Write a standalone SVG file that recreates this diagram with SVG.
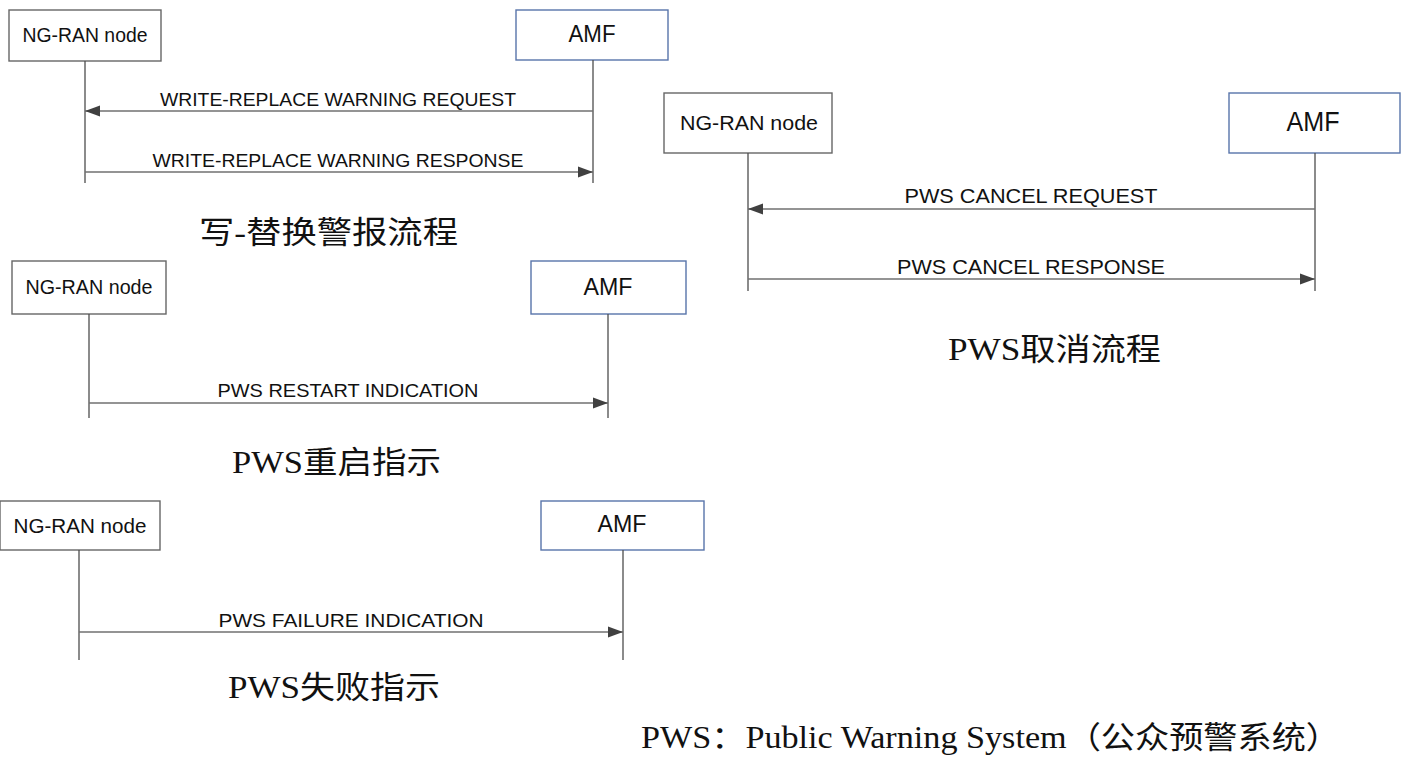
<svg xmlns="http://www.w3.org/2000/svg" width="1407" height="762" viewBox="0 0 1407 762">
<style>
.box{fill:#fff;stroke:#666;stroke-width:1.4}
.amf{fill:#fff;stroke:#5874aa;stroke-width:1.4}
.life{stroke:#4d4d4d;stroke-width:1.3;fill:none}
.msg{stroke:#707070;stroke-width:1.6;fill:none;marker-end:url(#ah)}
.t{font-family:"Liberation Sans",Arial,sans-serif;fill:#111;text-anchor:middle}
.cap{font-family:"Liberation Serif","Noto Sans CJK SC",serif;fill:#111;font-size:31px}
</style>
<defs>
<marker id="ah" markerUnits="userSpaceOnUse" markerWidth="18" markerHeight="14" refX="15" refY="6" orient="auto">
<path d="M0,0.5 L15,6 L0,11.5 Z" fill="#404040"/>
</marker>
</defs>
<rect width="1407" height="762" fill="#fff"/>

<g id="d1-ngran"><rect class="box" x="9" y="10" width="152" height="51"/><text class="t" x="85" y="42" font-size="19.5" textLength="125" lengthAdjust="spacingAndGlyphs">NG-RAN node</text></g>
<g id="d1-amf"><rect class="amf" x="516" y="10" width="152" height="50"/><text class="t" x="592" y="42" font-size="23" textLength="47" lengthAdjust="spacingAndGlyphs">AMF</text></g>

<g id="d2-ngran"><rect class="box" x="664" y="93" width="168" height="60"/><text class="t" x="749" y="130" font-size="21" textLength="138" lengthAdjust="spacingAndGlyphs">NG-RAN node</text></g>
<g id="d2-amf"><rect class="amf" x="1229" y="93" width="171" height="60"/><text class="t" x="1313" y="131" font-size="27" textLength="53" lengthAdjust="spacingAndGlyphs">AMF</text></g>

<g id="d3-ngran"><rect class="box" x="12" y="261" width="154" height="53"/><text class="t" x="89" y="294" font-size="19.5" textLength="127" lengthAdjust="spacingAndGlyphs">NG-RAN node</text></g>
<g id="d3-amf"><rect class="amf" x="531" y="261" width="155" height="53"/><text class="t" x="608" y="295" font-size="23" textLength="49" lengthAdjust="spacingAndGlyphs">AMF</text></g>

<g id="d4-ngran"><rect class="box" x="0" y="501" width="160" height="49"/><text class="t" x="80" y="533" font-size="19.5" textLength="133" lengthAdjust="spacingAndGlyphs">NG-RAN node</text></g>
<g id="d4-amf"><rect class="amf" x="541" y="501" width="163" height="49"/><text class="t" x="622" y="532" font-size="23" textLength="49" lengthAdjust="spacingAndGlyphs">AMF</text></g>

<g id="connectors">
<line class="life" x1="85" y1="61" x2="85" y2="183"/>
<line class="life" x1="593" y1="60" x2="593" y2="183"/>
<line class="life" x1="748" y1="153" x2="748" y2="291"/>
<line class="life" x1="1315" y1="153" x2="1315" y2="291"/>
<line class="life" x1="89" y1="314" x2="89" y2="418"/>
<line class="life" x1="608" y1="314" x2="608" y2="418"/>
<line class="life" x1="79" y1="550" x2="79" y2="660"/>
<line class="life" x1="623" y1="550" x2="623" y2="660"/>

<line class="msg" x1="593" y1="111" x2="85" y2="111"/>
<line class="msg" x1="85" y1="172" x2="593" y2="172"/>
<line class="msg" x1="1315" y1="209" x2="748" y2="209"/>
<line class="msg" x1="748" y1="279" x2="1315" y2="279"/>
<line class="msg" x1="89" y1="403" x2="608" y2="403"/>
<line class="msg" x1="79" y1="632" x2="623" y2="632"/>

<text class="t" x="338" y="106" font-size="19" textLength="356" lengthAdjust="spacingAndGlyphs">WRITE-REPLACE WARNING REQUEST</text>
<text class="t" x="338" y="167" font-size="19" textLength="371" lengthAdjust="spacingAndGlyphs">WRITE-REPLACE WARNING RESPONSE</text>
<text class="t" x="1031" y="203" font-size="21" textLength="253" lengthAdjust="spacingAndGlyphs">PWS CANCEL REQUEST</text>
<text class="t" x="1031" y="274" font-size="21" textLength="268" lengthAdjust="spacingAndGlyphs">PWS CANCEL RESPONSE</text>
<text class="t" x="348" y="397" font-size="19" textLength="261" lengthAdjust="spacingAndGlyphs">PWS RESTART INDICATION</text>
<text class="t" x="351" y="627" font-size="19" textLength="265" lengthAdjust="spacingAndGlyphs">PWS FAILURE INDICATION</text>
</g>

<g id="captions">
<text class="cap" x="199" y="243" textLength="259" lengthAdjust="spacingAndGlyphs">写-替换警报流程</text>
<text class="cap" x="948" y="360" textLength="213" lengthAdjust="spacingAndGlyphs">PWS取消流程</text>
<text class="cap" x="232" y="473" textLength="209" lengthAdjust="spacingAndGlyphs">PWS重启指示</text>
<text class="cap" x="228" y="698" textLength="212" lengthAdjust="spacingAndGlyphs">PWS失败指示</text>
<text class="cap" x="641" y="748" font-size="32" textLength="699" lengthAdjust="spacingAndGlyphs">PWS：Public Warning System（公众预警系统）</text>
</g>
</svg>
